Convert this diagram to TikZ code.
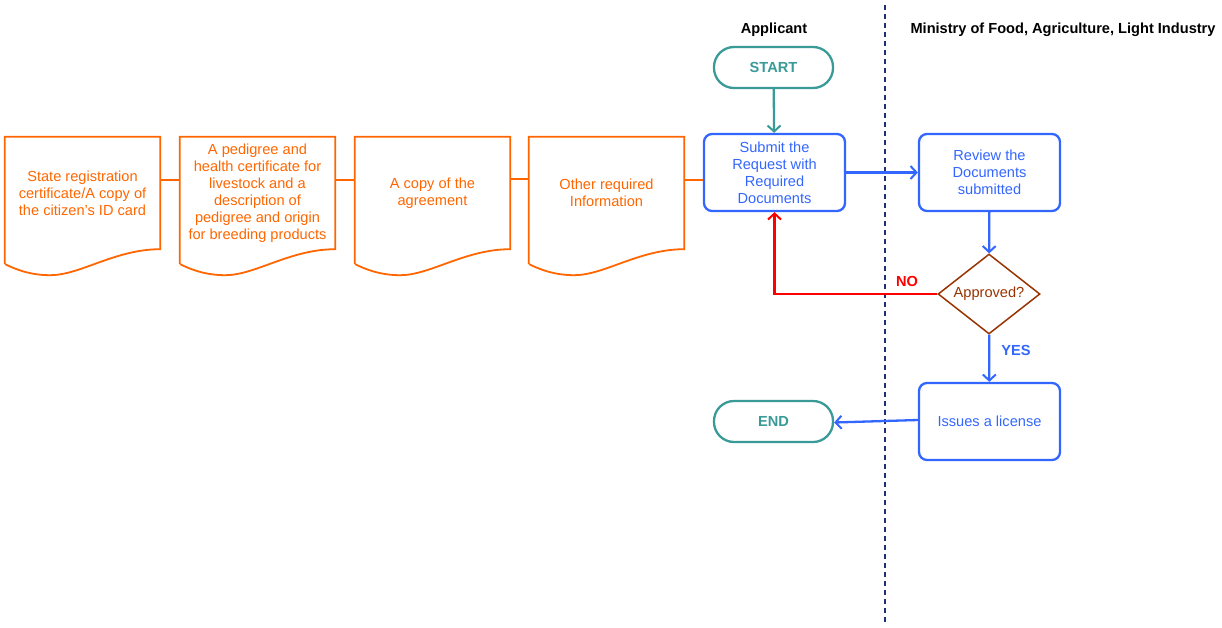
\documentclass[tikz,border=0pt]{standalone}
\usepackage{fontspec}
\setmainfont{Liberation Sans}
\usetikzlibrary{arrows.meta,shapes.geometric,calc}
\definecolor{dorange}{HTML}{FF6600}
\definecolor{dblue}{HTML}{3366FF}
\definecolor{dteal}{HTML}{3A9A97}
\definecolor{dbrown}{HTML}{993300}
\definecolor{dnavy}{HTML}{1F2F6F}
\definecolor{dred}{HTML}{FF0000}
\begin{document}
\begin{tikzpicture}[x=1pt,y=-1pt,
  every node/.style={font=\fontsize{14.6}{17}\selectfont, inner sep=0pt},
  docnode/.style={minimum width=155pt, minimum height=112pt, align=center, text=dorange},
  docline/.style={draw=dorange, line width=1.8pt},
  procbox/.style={draw=dblue, line width=2.3pt, rounded corners=8pt, minimum width=141pt, minimum height=77pt, align=center, text=dblue},
  term/.style={draw=dteal, line width=2.3pt, rounded corners=20pt, minimum width=119pt, minimum height=41pt, text=dteal, font=\fontsize{14.6}{17}\selectfont\bfseries},
  dec/.style={draw=dbrown, line width=1.5pt, diamond, aspect=1.28, minimum width=102pt, minimum height=80pt, text=dbrown},
  arr/.style={line width=2.3pt, -{Straight Barb[length=6pt,width=13pt,line width=2pt]}},
  lanelabel/.style={font=\fontsize{14.6}{17}\selectfont\bfseries, text=black}
]
\useasboundingbox (0,0) rectangle (1222,627);

% lane separator
\draw[dnavy, line width=1.5pt, dash pattern=on 5pt off 4pt] (885,5) -- (885,622);
\node[lanelabel] (lane1) at (774,29.5) {Applicant};
\node[lanelabel] (lane2) at (1063,29.5) {Ministry of Food, Agriculture, Light Industry};

% documents
\newcommand{\mydoc}[3]{%
  \node[docnode] (#1) at (#2,193) {#3};
  \draw[docline] (#1.south west) ++(0,15) -- (#1.north west) -- (#1.north east) -- (#1.south east)
     .. controls +(-45,0) and +(30,0) .. ++(-110,26)
     .. controls +(-20,0) and +(10,5) .. ++(-45,-11);
}
\mydoc{d1}{82.5}{State registration\\certificate/A copy of\\the citizen's ID card}
\mydoc{d2}{257.5}{A pedigree and\\health certificate for\\livestock and a\\description of\\pedigree and origin\\for breeding products}
\mydoc{d3}{432.5}{A copy of the\\agreement}
\mydoc{d4}{606.5}{Other required\\Information}

% process nodes
\node[procbox] (submit) at (774.5,172.5) {Submit the\\Request with\\Required\\Documents};
\node[procbox] (review) at (989.5,172.5) {Review the\\Documents\\submitted};
\node[dec] (appr) at (989,294) {Approved?};
\node[procbox] (issue) at (989.5,421.5) {Issues a license};
\node[term] (start) at (773.5,67.5) {START};
\node[term] (end) at (773.5,421.5) {END};

% document chain
\draw[docline] ($(d1.east)+(0,-13)$) -- ($(d2.west)+(0,-13)$);
\draw[docline] ($(d2.east)+(0,-13)$) -- ($(d3.west)+(0,-13)$);
\draw[docline] ($(d3.east)+(0,-14)$) -- ($(d4.west)+(0,-14)$);
\draw[docline] ($(d4.east)+(0,-13)$) -- (submit.west |- 0,180);

% flow
\draw[arr, dteal] (start) -- (submit);
\draw[arr, dblue] (submit) -- (review);
\draw[arr, dblue] (review) -- (appr);
\draw[arr, dred] (appr.west) -| (submit.south);
\node[font=\fontsize{14.6}{17}\selectfont\bfseries, text=dred] (no) at (907,281) {NO};
\draw[arr, dblue] (appr) -- (issue);
\node[font=\fontsize{14.6}{17}\selectfont\bfseries, text=dblue] (yes) at (1016,350) {YES};
\draw[arr, dblue] ($(issue.west)+(0,-1.5)$) -- ($(end.east)+(0,1)$);
\end{tikzpicture}
\end{document}
